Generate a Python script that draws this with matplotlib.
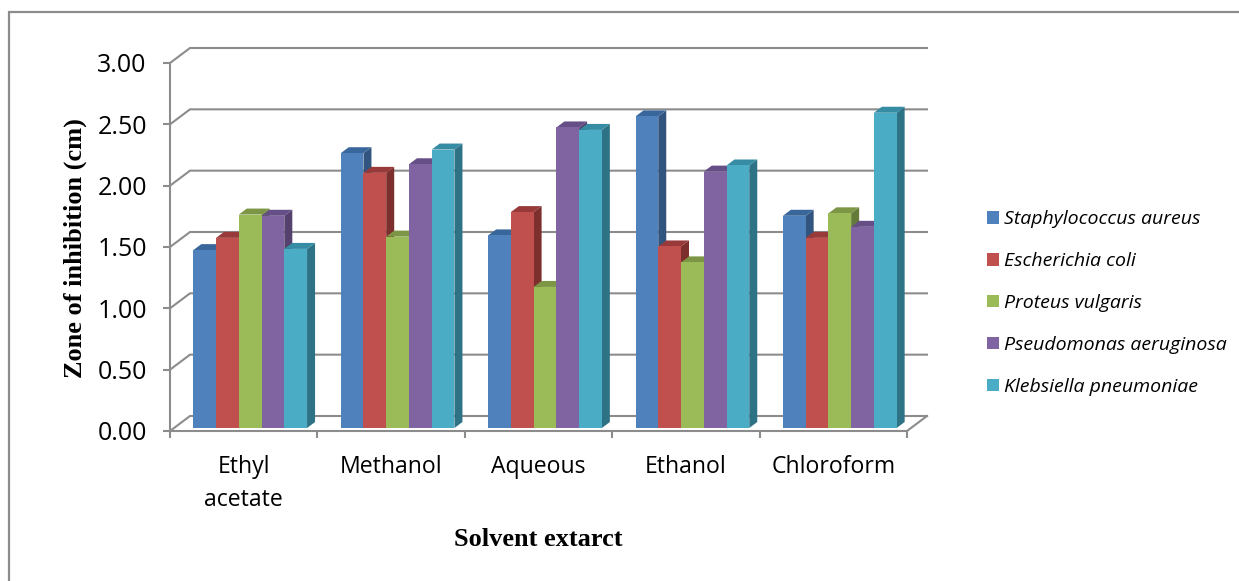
import matplotlib
matplotlib.use("Agg")
import matplotlib.pyplot as plt
from matplotlib.lines import Line2D
from matplotlib.patches import Polygon, Patch

categories = ["Ethyl\nacetate", "Methanol", "Aqueous", "Ethanol", "Chloroform"]
staph = [1.45, 2.24, 1.57, 2.54, 1.73]
ecoli = [1.55, 2.08, 1.76, 1.48, 1.55]
proteus = [1.74, 1.56, 1.15, 1.35, 1.75]
pseudo = [1.73, 2.15, 2.45, 2.09, 1.64]
kleb = [1.46, 2.27, 2.43, 2.14, 2.57]
series_names = ["Staphylococcus aureus", "Escherichia coli", "Proteus vulgaris",
                "Pseudomonas aeruginosa", "Klebsiella pneumoniae"]
series = [staph, ecoli, proteus, pseudo, kleb]
y_ticks = [0, 0.5, 1.0, 1.5, 2.0, 2.5, 3.0]

front = ["#4F81BD", "#C0504D", "#9BBB59", "#8064A2", "#4BACC6"]
side = ["#31557F", "#7D2F2D", "#637A38", "#54416E", "#2E7286"]
top = ["#3A679B", "#98393A", "#7C9645", "#664F86", "#358CA3"]
GREY = "#8C8C8C"

W, H = 1239, 581
fig = plt.figure(figsize=(W / 100, H / 100), dpi=100, facecolor="white")
ax = fig.add_axes([170 / W, (H - 431) / H, 737 / W, 368 / H])
ax.set_xlim(0, 5)
ax.set_ylim(0, 3)
ax.patch.set_visible(False)

px_x = 5 / 737
px_y = 3 / 368
wall_dx, wall_dy = 20 * px_x, 15 * px_y
bar_dx, bar_dy = 8 * px_x, 6 * px_y
base = 3.0 * px_y
bar_w = 22.75 * px_x
start = 23.3 * px_x

# back wall
for v in y_ticks:
    ax.plot([0, wall_dx, 5 + wall_dx], [v, v + wall_dy, v + wall_dy], color=GREY, lw=1.5,
            clip_on=False, zorder=1, solid_joinstyle="miter")
ax.plot([5, 5 + wall_dx], [0, wall_dy], color=GREY, lw=1.5, clip_on=False, zorder=1)

# bars
z = 2
for c in range(len(categories)):
    for s, vals in enumerate(series):
        x0 = c + start + s * bar_w
        x1 = x0 + bar_w
        t = base + vals[c]
        ax.add_patch(Polygon([(x1, base), (x1 + bar_dx, base + bar_dy), (x1 + bar_dx, t + bar_dy), (x1, t)],
                             closed=True, fc=side[s], ec="none", clip_on=False, zorder=z))
        ax.add_patch(Polygon([(x0, t), (x1, t), (x1 + bar_dx, t + bar_dy), (x0 + bar_dx, t + bar_dy)],
                             closed=True, fc=top[s], ec="none", clip_on=False, zorder=z))
        ax.bar(x0, vals[c], width=bar_w, bottom=base, align="edge", color=front[s], lw=0,
               clip_on=False, zorder=z + 0.5)
        z += 1

for name in ("top", "right"):
    ax.spines[name].set_visible(False)
for name in ("left", "bottom"):
    ax.spines[name].set_color(GREY)
    ax.spines[name].set_linewidth(1.5)
    ax.spines[name].set_zorder(200)

ax.set_yticks(y_ticks)
ax.set_yticklabels([f"{v:.2f}" for v in y_ticks])
ax.set_xticks(range(6))
ax.set_xticklabels([])
ax.set_xticks([i + 0.5 for i in range(5)], minor=True)
ax.set_xticklabels(categories, minor=True)
ax.tick_params(axis="both", which="major", color=GREY, width=1.5, length=5.2)
ax.tick_params(axis="y", labelsize=18, pad=11.5)
ax.tick_params(axis="x", which="minor", length=0, labelsize=16.6, pad=17)
for lab in ax.get_xticklabels(minor=True) + ax.get_yticklabels():
    lab.set_fontfamily("Open Sans")
    lab.set_color("black")
for lab in ax.get_xticklabels(minor=True):
    lab.set_linespacing(1.5)

fig.text(538 / W, 1 - 540 / H, "Solvent extarct", family="Liberation Serif", weight="bold",
         fontsize=19, ha="center", va="center")
fig.text(75 / W, 1 - 248 / H, "Zone of inhibition (cm)", family="Liberation Serif", weight="bold",
         fontsize=19, rotation=90, ha="center", va="center")

handles = [Patch(fc=f, ec="none") for f in front]
leg = fig.legend(handles, series_names, loc="center left",
                 bbox_to_anchor=(987 / W, 1 - 303 / H), frameon=False,
                 prop={"family": "Open Sans", "style": "italic", "size": 14},
                 handlelength=0.62, handleheight=0.62, handletextpad=0.27,
                 labelspacing=1.23, borderpad=0, borderaxespad=0)

# outer frame (top and left only)
fig.add_artist(Line2D([9 / W, 9 / W, 1], [0, 1 - 12 / H, 1 - 12 / H], color="#8C8C8C", lw=1.6,
                      solid_joinstyle="miter"))

fig.savefig("out.png", dpi=100)
